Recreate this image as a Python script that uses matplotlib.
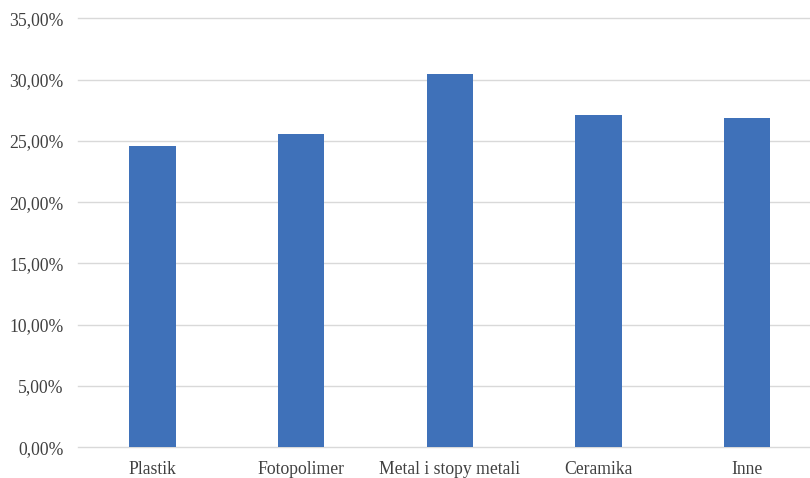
#!/usr/bin/env python3
"""Bar chart of material shares (recreated)."""

import matplotlib
matplotlib.use('Agg')
import matplotlib.pyplot as plt
import matplotlib.ticker as ticker
import numpy as np


categories = ['Plastik', 'Fotopolimer', 'Metal i stopy metali', 'Ceramika', 'Inne']
values = [24.58, 25.58, 30.47, 27.08, 26.88]
y_ticks = [0, 5, 10, 15, 20, 25, 30, 35]

bar_colour = '#3F71B9'
grid_colour = '#D9D9D9'
text_colour = '#404040'


def pct_fmt(v, pos=None):
    return f'{v:.2f}'.replace('.', ',') + '%'


def main():
    plt.rc('font', family='Liberation Serif', size=12.7)

    fig = plt.figure(figsize=(8.1, 4.78), dpi=100)
    # the plot area runs a little past the right edge of the picture
    ax = fig.add_axes([0.0963, 0.0642, 0.918, 0.8975])

    x = np.arange(len(categories))
    ax.bar(x, values, width=0.313, color=bar_colour, zorder=3)

    ax.set_xlim(-0.5, len(categories) - 0.5)
    ax.set_ylim(0, 35)
    ax.set_yticks(y_ticks)
    ax.yaxis.set_major_formatter(ticker.FuncFormatter(pct_fmt))
    ax.set_xticks(x)
    ax.set_xticklabels(categories)

    ax.grid(axis='y', color=grid_colour, linewidth=1.0, zorder=0)
    for line in ax.get_ygridlines():
        line.set_clip_on(False)
    for s in ax.spines.values():
        s.set_visible(False)
    ax.tick_params(axis='both', length=0, colors=text_colour, labelsize=12.7)
    ax.tick_params(axis='y', pad=10.5)
    ax.tick_params(axis='x', pad=9.5)

    fig.savefig('out.png', dpi=100)


if __name__ == '__main__':
    main()
